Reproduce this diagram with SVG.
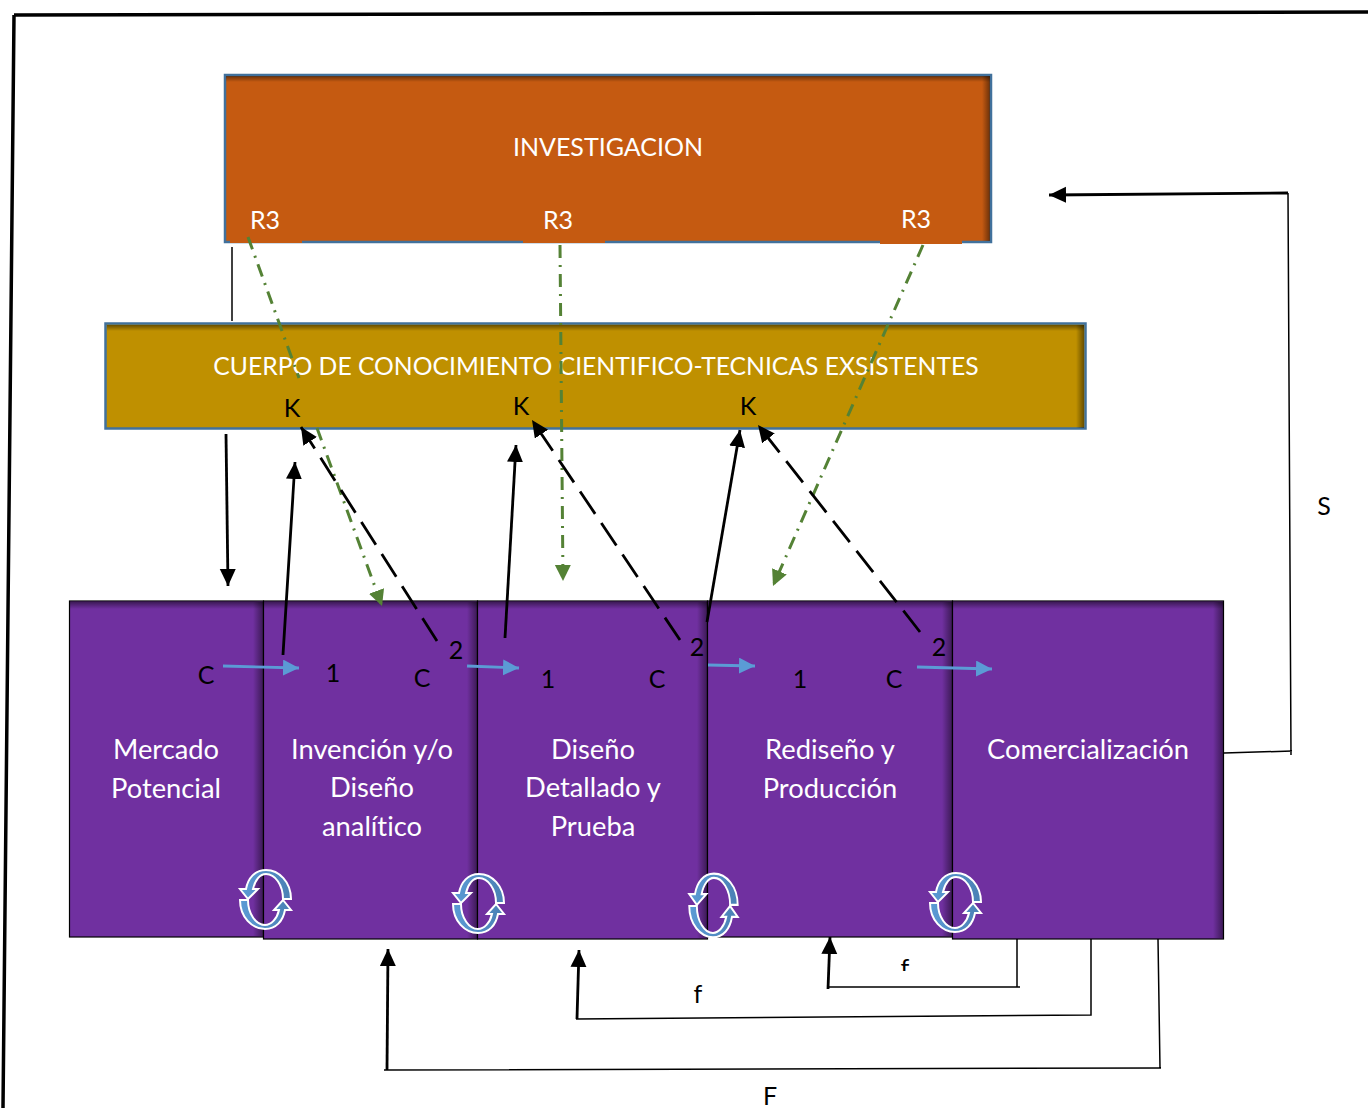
<svg xmlns="http://www.w3.org/2000/svg" width="1368" height="1108" viewBox="0 0 1368 1108">
<style>
text{font-family:Lato,"Liberation Sans",sans-serif;font-size:25px;text-anchor:middle;font-variant-ligatures:none}
.w{fill:#fff}.k{fill:#000}
.t{font-size:27.300px}
.box{stroke:#000;stroke-width:1.2;fill:#7030A0}
.ln{stroke:#000;stroke-width:1.5;fill:none}
.ar{stroke:#000;stroke-width:2.800;fill:none;marker-end:url(#mk)}
.da{stroke:#000;stroke-width:2.800;fill:none;stroke-dasharray:27 11;marker-end:url(#mk)}
.bl{stroke:#5B9BD5;stroke-width:2.800;fill:none;marker-end:url(#mb)}
.gr{stroke:#548235;stroke-width:3;fill:none;stroke-dasharray:13 7 2 7}
.ga{marker-end:url(#mg)}
.cy{fill:url(#cyg);stroke:#fff;stroke-width:2}
</style>
<defs>
<marker id="mk" markerUnits="userSpaceOnUse" markerWidth="20" markerHeight="18" refX="17" refY="8" orient="auto"><path d="M0 0L17 8L0 16Z" fill="#000"/></marker>
<marker id="mb" markerUnits="userSpaceOnUse" markerWidth="18" markerHeight="18" refX="16" refY="8" orient="auto"><path d="M0 0L16 8L0 16Z" fill="#5B9BD5"/></marker>
<marker id="mg" markerUnits="userSpaceOnUse" markerWidth="20" markerHeight="18" refX="16" refY="8" orient="auto"><path d="M0 0L16 8L0 16Z" fill="#548235"/></marker>
<linearGradient id="sr"><stop offset="0" stop-color="#000" stop-opacity="0"/><stop offset="1" stop-color="#000" stop-opacity=".45"/></linearGradient>
<linearGradient id="st" x2="0" y2="1"><stop offset="0" stop-color="#000" stop-opacity=".45"/><stop offset="1" stop-color="#000" stop-opacity="0"/></linearGradient>
<linearGradient id="cyg" x2="1" y2="0"><stop offset="0" stop-color="#5B9BD5"/><stop offset="1" stop-color="#4A80B4"/></linearGradient>
<g id="cy">
<path class="cy" d="M26-1C26-18 14-30 1-30C-10-30-17-22-19-11L-25-11L-17-1L-7-11L-12-11C-10-20-5-26 1-26C10-26 18-15 18-1Z"/>
<path class="cy" d="M-26 1C-26 18-14 30-1 30C10 30 17 22 19 11L25 11L17 1L8 11L13 11C11 20 5 26-1 26C-10 26-18 15-18 1Z" transform="translate(1 -1)"/>
</g>
<clipPath id="cf"><rect x="890" y="950" width="30" height="21"/></clipPath>
</defs>
<g id="frame"><path d="M14 15L1368 12M14 15L3 1108" fill="none" stroke="#000" stroke-width="3.500"/></g>
<g id="investigacion">
<rect x="225" y="75" width="766" height="167" fill="#C55A11" stroke="#41719C" stroke-width="2.500"/>
<rect x="226" y="76" width="764" height="6" fill="url(#st)"/><rect x="982" y="76" width="8" height="165" fill="url(#sr)"/>
<rect x="230" y="205" width="72" height="38" fill="#C55A11"/><rect x="523" y="205" width="82" height="38" fill="#C55A11"/><rect x="880" y="205" width="82" height="39" fill="#C55A11"/>
<text class="w" x="608" y="156">INVESTIGACION</text>
<text class="w" x="265" y="229">R3</text><text class="w" x="558" y="229">R3</text><text class="w" x="916" y="228">R3</text>
</g>
<g id="cuerpo">
<rect x="105.500" y="323.500" width="980" height="105" fill="#BF9000" stroke="#41719C" stroke-width="2.500"/>
<rect x="107" y="325" width="977" height="6" fill="url(#st)"/><rect x="1076" y="325" width="8" height="103" fill="url(#sr)"/>
<text class="w" x="596" y="375" style="font-size:24.700px">CUERPO DE CONOCIMIENTO CIENTIFICO-TECNICAS EXSISTENTES</text>
<text class="k" x="292" y="417">K</text><text class="k" x="521" y="415">K</text><text class="k" x="748" y="415">K</text>
</g>
<g id="mercado"><rect class="box" x="69.500" y="601" width="194" height="336"/><rect x="253" y="602" width="10" height="334" fill="url(#sr)"/><rect x="70" y="602" width="193" height="7" fill="url(#st)"/>
<text class="w t" x="166" y="759">Mercado</text><text class="w t" x="166" y="798">Potencial</text></g>
<g id="invencion"><rect class="box" x="263.500" y="601" width="214" height="338"/><rect x="467" y="602" width="10" height="336" fill="url(#sr)"/><rect x="264" y="602" width="213" height="7" fill="url(#st)"/>
<text class="w t" x="372" y="759">Invención y/o</text><text class="w t" x="372" y="797">Diseño</text><text class="w t" x="372" y="836">analítico</text></g>
<g id="diseno"><rect class="box" x="477.500" y="601" width="230" height="338"/><rect x="697" y="602" width="10" height="336" fill="url(#sr)"/><rect x="478" y="602" width="229" height="7" fill="url(#st)"/>
<text class="w t" x="593" y="759">Diseño</text><text class="w t" x="593" y="797">Detallado y</text><text class="w t" x="593" y="836">Prueba</text></g>
<g id="rediseno"><rect class="box" x="707.500" y="601" width="245" height="336"/><rect x="942" y="602" width="10" height="334" fill="url(#sr)"/><rect x="708" y="602" width="244" height="7" fill="url(#st)"/>
<text class="w t" x="830" y="759">Rediseño y</text><text class="w t" x="830" y="798">Producción</text></g>
<g id="comercializacion"><rect class="box" x="952.500" y="601" width="271" height="338"/><rect x="1213" y="602" width="10" height="336" fill="url(#sr)"/><rect x="953" y="602" width="270" height="7" fill="url(#st)"/>
<text class="w t" x="1088" y="759">Comercialización</text></g>
<g id="connectors">
<path class="ln" d="M232 247V321"/>
<path class="ar" d="M226 434L228 586"/>
<path class="gr" d="M248 237L299 378"/>
<path class="gr ga" d="M317 428L382 606"/>
<path class="gr ga" d="M560 245L563 581"/>
<path class="gr ga" d="M923 245L773 586"/>
<path class="ar" d="M283 655L295 462"/>
<path class="ar" d="M505 638L516 445"/>
<path class="ar" d="M707 622L740 430"/>
<path class="da" d="M437 641L301 427"/>
<path class="da" d="M680 640L532 420"/>
<path class="da" d="M920 632L758 425"/>
<path class="bl" d="M223 666L299 668"/>
<path class="bl" d="M467 666L519 668"/>
<path class="bl" d="M708 665L755 666"/>
<path class="bl" d="M917 667L992 669"/>
<path class="ln" d="M1224 753L1292 751M1288 193L1291 755"/>
<path class="ar" d="M1288 193L1049 195"/>
<path class="ln" d="M1017 939V987M1020 987H827"/>
<path class="ar" d="M828 989L830 937"/>
<path class="ln" d="M1091 939V1015L576 1019"/>
<path class="ar" d="M577 1019L579 950"/>
<path class="ln" d="M1158 939L1160 1068M1161 1068L384 1070"/>
<path class="ar" d="M387 1070L388 949"/>
</g>
<g id="cycles">
<use href="#cy" transform="translate(265 900)"/>
<use href="#cy" transform="translate(478 904)"/>
<use href="#cy" transform="translate(713 906) scale(.95 1.08)"/>
<use href="#cy" transform="translate(955 903)"/>
</g>
<g id="labels">
<text class="k" x="206" y="684">C</text><text class="k" x="333" y="682">1</text><text class="k" x="422" y="687">C</text><text class="k" x="456" y="659">2</text>
<text class="k" x="548" y="688">1</text><text class="k" x="657" y="688">C</text><text class="k" x="697" y="656">2</text>
<text class="k" x="800" y="688">1</text><text class="k" x="894" y="688">C</text><text class="k" x="939" y="656">2</text>
<text class="k" x="1324" y="515">S</text><text class="k" x="698" y="1003">f</text><text class="k" x="770" y="1105">F</text>
<text class="k" x="905" y="977" clip-path="url(#cf)">f</text>
</g>
</svg>
